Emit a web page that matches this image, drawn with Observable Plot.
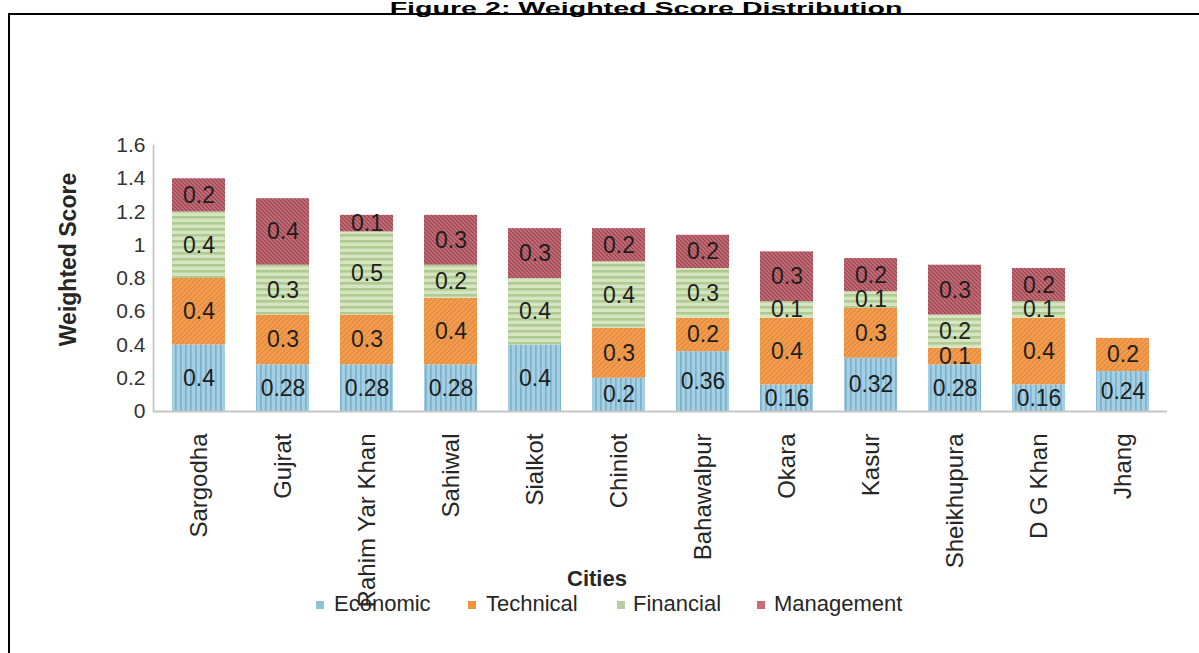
<!DOCTYPE html>
<html>
<head>
<meta charset="utf-8">
<script src="https://cdn.jsdelivr.net/npm/d3@7"></script>
<script src="https://cdn.jsdelivr.net/npm/@observablehq/plot@0.6"></script>
<style>
  html, body { margin: 0; padding: 0; background: #fff; }
  body { width: 1199px; height: 653px; overflow: hidden; position: relative;
         font-family: "Liberation Sans", Arial, sans-serif; }
  #frame { position: absolute; left: 8px; top: 13px; right: -20px; bottom: -20px;
           border: 2.5px solid #000; }
  #title { position: absolute; left: 646px; top: 0px; font-size: 22px; line-height: 22px;
           font-weight: bold; white-space: nowrap; color: #000;
           transform-origin: 50% 0; transform: translateX(-50%) scale(1.3, 0.78); }
  #chart { position: absolute; left: 0; top: 0; }
  #xtitle { position: absolute; left: 597px; top: 567px; transform: translateX(-50%);
            font-size: 22px; line-height: 24px; font-weight: bold; color: #262626; white-space: nowrap; }
  .sw { position: absolute; top: 601px; width: 8px; height: 8px; }
  .lt { position: absolute; top: 592px; font-size: 22px; line-height: 24px; color: #262626; white-space: nowrap; }
</style>
</head>
<body>
<div id="frame"></div>
<div id="title">Figure 2: Weighted Score Distribution</div>
<div id="chart"></div>
<div id="xtitle">Cities</div>
<div id="legend"></div>
<script>
// ---- data ----
const cities = ["Sargodha", "Gujrat", "Rahim Yar Khan", "Sahiwal", "Sialkot", "Chiniot",
                "Bahawalpur", "Okara", "Kasur", "Sheikhupura", "D G Khan", "Jhang"];
const seriesNames = ["Economic", "Technical", "Financial", "Management"];
const economic   = [0.4, 0.28, 0.28, 0.28, 0.4, 0.2, 0.36, 0.16, 0.32, 0.28, 0.16, 0.24];
const technical  = [0.4, 0.3, 0.3, 0.4, 0, 0.3, 0.2, 0.4, 0.3, 0.1, 0.4, 0.2];
const financial  = [0.4, 0.3, 0.5, 0.2, 0.4, 0.4, 0.3, 0.1, 0.1, 0.2, 0.1, 0];
const management = [0.2, 0.4, 0.1, 0.3, 0.3, 0.2, 0.2, 0.3, 0.2, 0.3, 0.2, 0];
const yTicks = [0, 0.2, 0.4, 0.6, 0.8, 1, 1.2, 1.4, 1.6];
const yLabel = "Weighted Score";

const seriesValues = [economic, technical, financial, management];
const patternIds = ["pEcon", "pTech", "pFin", "pMgmt"];
const swatchColors = ["#8fc3d9", "#f0953e", "#b9cca3", "#c76a7a"];

const data = cities.flatMap((c, i) =>
  seriesNames.map((s, j) => ({city: c, series: s, value: seriesValues[j][i]})));
const labelData = data.filter(d => d.value > 0);

const chart = Plot.plot({
  width: 1199,
  height: 653,
  marginTop: 145,
  marginBottom: 242,
  marginLeft: 153,
  marginRight: 32,
  style: {fontFamily: "'Liberation Sans', Arial, sans-serif", fontSize: "21px",
          color: "#404040", background: "transparent", overflow: "visible"},
  x: {domain: cities, paddingInner: 0.372, paddingOuter: 0.195},
  y: {domain: [0, 1.6]},
  color: {domain: seriesNames, range: patternIds.map(id => `url(#${id})`)},
  marks: [
    Plot.frame({anchor: "left", stroke: "#bfbfbf", strokeWidth: 1.5}),
    Plot.barY(data, Plot.stackY({x: "city", y: "value", z: "series", fill: "series"})),
    Plot.ruleY([0], {stroke: "#c6c6c6", strokeWidth: 2}),
    Plot.text(labelData, Plot.stackY({x: "city", y: "value", z: "series",
      text: d => String(d.value), fontSize: 23, fill: "#1e1e1e"})),
    Plot.axisY({ticks: yTicks, tickFormat: d => String(d), tickSize: 0, tickPadding: 8,
      label: null, fontSize: 21, fill: "#333"}),
    Plot.axisX({tickRotate: -90, tickSize: 0, tickPadding: 22, label: null,
      fontSize: 24, fill: "#262626"}),
    Plot.text([yLabel], {text: d => d, frameAnchor: "left", textAnchor: "middle",
      lineAnchor: "middle", rotate: -90, dx: -85, dy: -19, fontWeight: "bold",
      fontSize: 23, fill: "#262626"})
  ]
});

// patterned fills
const defs = d3.select(chart).insert("defs", ":first-child");
const pe = defs.append("pattern").attr("id", "pEcon").attr("patternUnits", "userSpaceOnUse")
  .attr("width", 5).attr("height", 10);
pe.append("rect").attr("width", 5).attr("height", 10).attr("fill", "#a5d0e4");
pe.append("rect").attr("x", 0).attr("width", 1.7).attr("height", 10).attr("fill", "#7cb2cc");

const pt = defs.append("pattern").attr("id", "pTech").attr("patternUnits", "userSpaceOnUse")
  .attr("width", 5).attr("height", 5);
pt.append("rect").attr("width", 5).attr("height", 5).attr("fill", "#f39b4c");
pt.append("path").attr("d", "M0,5L5,0M-1,1L1,-1M4,6L6,4").attr("stroke", "#d8823a").attr("stroke-width", 1);

const pf = defs.append("pattern").attr("id", "pFin").attr("patternUnits", "userSpaceOnUse")
  .attr("width", 10).attr("height", 6);
pf.append("rect").attr("width", 10).attr("height", 6).attr("fill", "#d5e5c1");
pf.append("rect").attr("y", 0).attr("width", 10).attr("height", 2.6).attr("fill", "#b0cb91");

const pm = defs.append("pattern").attr("id", "pMgmt").attr("patternUnits", "userSpaceOnUse")
  .attr("width", 4).attr("height", 4);
pm.append("rect").attr("width", 4).attr("height", 4).attr("fill", "#c2717b");
pm.append("path").attr("d", "M0,0L4,4M-1,3L1,5M3,-1L5,1").attr("stroke", "#9a3e4a").attr("stroke-width", 1.1);

document.getElementById("chart").appendChild(chart);

// legend
const legendPos = [[316, 334], [468, 486], [617, 633], [757, 774]];
const legend = document.getElementById("legend");
seriesNames.forEach((s, i) => {
  const sw = document.createElement("div");
  sw.className = "sw";
  sw.style.left = legendPos[i][0] + "px";
  sw.style.background = swatchColors[i];
  legend.appendChild(sw);
  const t = document.createElement("div");
  t.className = "lt";
  t.style.left = legendPos[i][1] + "px";
  t.textContent = s;
  legend.appendChild(t);
});
</script>
</body>
</html>
